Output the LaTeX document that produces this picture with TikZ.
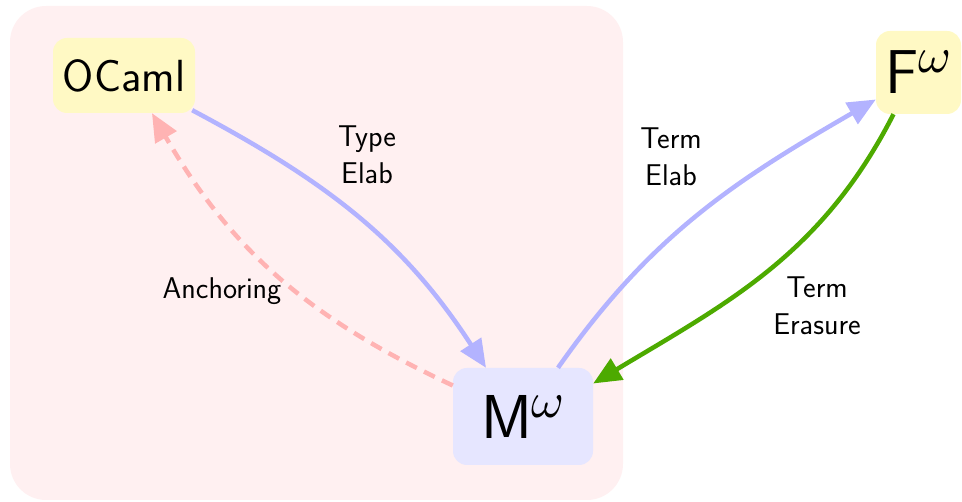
\documentclass[tikz,border=0pt]{standalone}
\usepackage{graphicx}
\usetikzlibrary{arrows.meta}
\definecolor{bgpink}{HTML}{FFF0F1}
\definecolor{yel}{HTML}{FFF9C4}
\definecolor{lav}{HTML}{E6E6FF}
\definecolor{lblue}{HTML}{B3B3FF}
\definecolor{lpink}{HTML}{FFB3B3}
\definecolor{grn}{HTML}{4DAA00}
\newcommand{\bigomega}{\raisebox{21pt}{\scalebox{5}{\fontsize{10}{12}\selectfont$\omega$}}}
\tikzset{
  box/.style={rounded corners=14pt, inner sep=0pt, font=\sffamily},
  lbl/.style={font=\sffamily\fontsize{30}{37}\selectfont, align=center},
  conn/.style={line width=4.5pt, -{Triangle[length=28pt,width=24pt]}},
}
\begin{document}
\begin{tikzpicture}[x=1pt,y=1pt]
\useasboundingbox (0,0) rectangle (962,502);
\fill[bgpink, rounded corners=36pt] (10,2) rectangle (623,496);
\node[box, fill=yel, minimum width=142pt, minimum height=75pt, font=\sffamily\fontsize{45}{54}\selectfont] (oc) at (124,426.5) {OCaml};
\node[box, fill=lav, minimum width=140pt, minimum height=97pt, font=\sffamily\fontsize{62}{70}\selectfont] (m) at (523,85.5) {M\bigomega};
\node[box, fill=yel, minimum width=85pt, minimum height=83pt, font=\sffamily\fontsize{62}{70}\selectfont] (f) at (918.5,429.5) {F\bigomega};
\draw[conn, lblue] ([xshift=-3pt,yshift=3pt]oc.south east) to[out=-28,in=123] ([xshift=-37pt]m.north);
\draw[conn, lpink, dash pattern=on 12pt off 8pt] ([yshift=31pt]m.west) to[out=155,in=-60] ([xshift=28pt]oc.south);
\draw[conn, lblue] ([xshift=35pt]m.north) to[out=55,in=210] ([yshift=-27pt]f.west);
\draw[conn, grn] ([xshift=-25pt]f.south) to[out=-117,in=31] ([yshift=33pt]m.east);
\node[lbl] (l1) at (367,347) {Type\\Elab};
\node[lbl] (l2) at (222,211) {Anchoring};
\node[lbl] (l3) at (671,345) {Term\\Elab};
\node[lbl] (l4) at (817,196) {Term\\Erasure};
\end{tikzpicture}
\end{document}
